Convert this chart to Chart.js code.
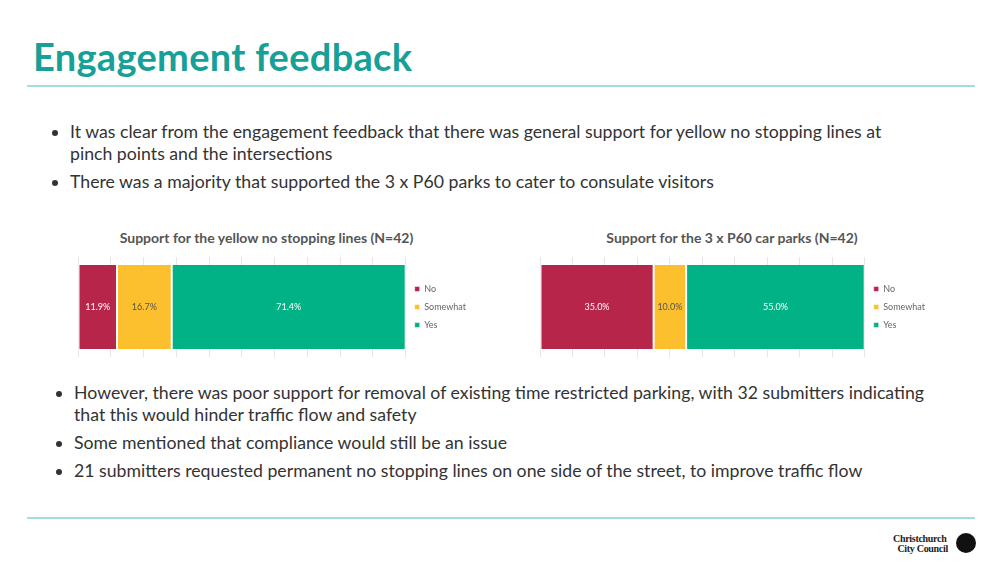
<!DOCTYPE html>
<html><head><meta charset="utf-8">
<script src="https://cdn.jsdelivr.net/npm/chart.js@4"></script>
<style>
body{margin:0;width:1003px;height:565px;background:#fff;font-family:Lato,"Noto Sans",sans-serif;position:relative;overflow:hidden;color:#333}
h1{position:absolute;left:33px;top:33px;margin:0;font-size:38px;color:#17a097;font-weight:bold;letter-spacing:0.3px}
.rule{position:absolute;left:27px;width:948px;height:2px;background:#a8ddd6}
ul{position:absolute;left:48px;margin:0;padding:0 0 0 22px;font-size:17.7px;line-height:22px}
li{margin-bottom:6px;padding-left:0}
.ct{position:absolute;font-size:14px;font-weight:bold;color:#555;text-align:center}
.box{position:absolute}
.logo{position:absolute;left:893px;top:534px;font-family:"Liberation Serif",serif;font-size:10px;line-height:10px;font-weight:bold;color:#222;letter-spacing:-0.3px}
.dot{position:absolute;left:956px;top:533px;width:20px;height:20px;border-radius:50%;background:#111}
</style></head><body>
<h1>Engagement feedback</h1>
<div class="rule" style="top:85px"></div>
<ul style="top:121px;width:850px">
<li>It was clear from the engagement feedback that there was general support for yellow no stopping lines at pinch points and the intersections</li>
<li>There was a majority that supported the 3 x P60 parks to cater to consulate visitors</li>
</ul>
<div class="ct" style="left:99px;top:229px;width:335px">Support for the yellow no stopping lines (N=42)</div>
<div class="ct" style="left:561px;top:229px;width:342px">Support for the 3 x P60 car parks (N=42)</div>
<div class="box" style="left:64px;top:255px;width:412px;height:104px"><canvas id="c1"></canvas></div>
<div class="box" style="left:526px;top:255px;width:409px;height:104px"><canvas id="c2"></canvas></div>
<ul style="top:382px;width:880px;left:52px">
<li>However, there was poor support for removal of existing time restricted parking, with 32 submitters indicating that this would hinder traffic flow and safety</li>
<li>Some mentioned that compliance would still be an issue</li>
<li>21 submitters requested permanent no stopping lines on one side of the street, to improve traffic flow</li>
</ul>
<div class="rule" style="top:517px"></div>
<div class="logo">Christchurch<br>&nbsp;&nbsp;City Council</div>
<div class="dot"></div>
<script>
var categories = ['No', 'Somewhat', 'Yes'];
var colours = ['#b8254a', '#fcbf2e', '#00b286'];
var yellowLines = [11.9, 16.7, 71.4];
var p60Parks = [35.0, 10.0, 55.0];

var valueLabels = {
  id: 'valueLabels',
  afterDatasetsDraw: function(chart) {
    var ctx = chart.ctx;
    ctx.save();
    ctx.font = '9px Lato, sans-serif';
    ctx.textAlign = 'center';
    ctx.textBaseline = 'middle';
    chart.data.datasets.forEach(function(ds, i) {
      var bar = chart.getDatasetMeta(i).data[0];
      ctx.fillStyle = i === 1 ? '#555' : '#fff';
      ctx.fillText(ds.data[0].toFixed(1) + '%', (bar.x + bar.base) / 2, bar.y);
    });
    ctx.restore();
  }
};

function makeChart(id, values) {
  new Chart(document.getElementById(id), {
    type: 'bar',
    data: {
      labels: [''],
      datasets: categories.map(function(c, i) {
        return { label: c, data: [values[i]], backgroundColor: colours[i],
          borderColor: '#fff', borderWidth: { left: 1, right: 1 }, borderSkipped: false,
          barPercentage: 0.84, categoryPercentage: 1 };
      })
    },
    options: {
      indexAxis: 'y', responsive: true, maintainAspectRatio: false, animation: false,
      layout: { padding: { left: 6, top: 2, bottom: 2 } },
      plugins: {
        legend: { position: 'right', labels: { usePointStyle: true, pointStyle: 'rect', boxWidth: 5, boxHeight: 5,
          padding: 9, color: '#666', font: { size: 9, family: 'Lato, sans-serif' } } },
        tooltip: { enabled: false }
      },
      scales: {
        x: { stacked: true, min: 0, max: 100, ticks: { display: false, stepSize: 10 },
          grid: { color: '#e6e6e6', drawTicks: false }, border: { display: false } },
        y: { stacked: true, ticks: { display: false }, grid: { display: false }, border: { display: false } }
      }
    },
    plugins: [valueLabels]
  });
}
makeChart('c1', yellowLines);
makeChart('c2', p60Parks);
</script>
</body></html>
